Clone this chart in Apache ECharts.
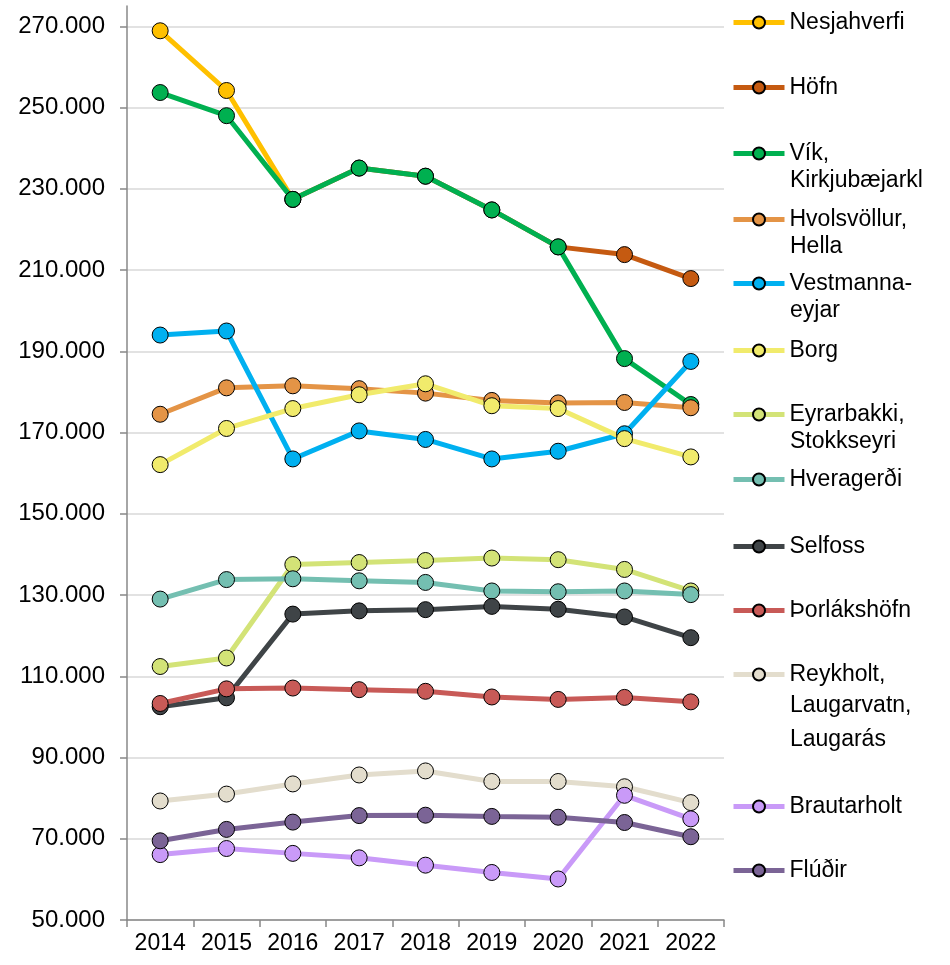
<!DOCTYPE html>
<html>
<head>
<meta charset="utf-8">
<script src="https://cdn.jsdelivr.net/npm/echarts@6/dist/echarts.min.js"></script>
<style>
  html, body { margin: 0; padding: 0; background: #fff; }
  #chart { width: 950px; height: 965px; }
</style>
</head>
<body>
<div id="chart"></div>
<script>
// ár
const years = ['2014', '2015', '2016', '2017', '2018', '2019', '2020', '2021', '2022'];

// gildi lesin af myndinni
const nesjahverfi = [268900, 254200, 227400, null, null, null, null, null, null];
const hofn        = [null, null, 227400, 235100, 233100, 224800, 215700, 213800, 207900];
const vik         = [253700, 248000, 227400, 235100, 233100, 224800, 215700, 188200, 176900];
const hvolsvollur = [174500, 181000, 181500, 180800, 179700, 177900, 177300, 177400, 176100];
const vestmannaeyjar = [194000, 195000, 163500, 170400, 168300, 163500, 165400, 169700, 187500];
const borg        = [162100, 171000, 175900, 179300, 182000, 176600, 175900, 168500, 164000];
const eyrarbakki  = [112400, 114500, 137500, 138000, 138500, 139100, 138700, 136300, 131000];
const hveragerdi  = [129000, 133800, 134000, 133500, 133100, 131000, 130800, 131000, 130100];
const selfoss     = [102500, 104700, 125300, 126100, 126400, 127200, 126500, 124600, 119500];
const thorlakshofn = [103300, 106900, 107100, 106700, 106300, 104900, 104300, 104800, 103700];
const reykholt    = [79300, 81000, 83500, 85700, 86700, 84100, 84100, 82800, 78900];
const brautarholt = [66100, 67600, 66400, 65300, 63500, 61700, 60100, 80700, 74900];
const fludir      = [69500, 72300, 74100, 75700, 75800, 75500, 75300, 74000, 70500];

// nöfn (línur í skýringu)
const names = [
  ['Nesjahverfi'], ['Höfn'], ['Vík,', 'Kirkjubæjarkl'], ['Hvolsvöllur,', 'Hella'],
  ['Vestmanna-', 'eyjar'], ['Borg'], ['Eyrarbakki,', 'Stokkseyri'], ['Hveragerði'],
  ['Selfoss'], ['Þorlákshöfn'], ['Reykholt,', 'Laugarvatn,', 'Laugarás'],
  ['Brautarholt'], ['Flúðir']
];
const values = [nesjahverfi, hofn, vik, hvolsvollur, vestmannaeyjar, borg, eyrarbakki,
  hveragerdi, selfoss, thorlakshofn, reykholt, brautarholt, fludir];
const colors = ['#FFC000', '#C55A11', '#00B050', '#E49446', '#00B0F0', '#F1EB6C', '#D3E377',
  '#74BFB1', '#3F4447', '#C85A57', '#E3DDCD', '#C99AF8', '#7B6496'];

// staðsetning skýringa (miðja fyrstu línu) og framhaldslína
const legendY = [21, 86, 152, 218, 282, 349, 413, 478, 545, 609, 673, 805, 869];
const extraLineY = { 2: [181], 3: [247], 4: [311], 6: [442], 10: [706, 740] };

const FONT = '"Liberation Sans", Arial, sans-serif';
const fmt = v => Math.round(v).toString().replace(/\B(?=(\d{3})+(?!\d))/g, '.');

const chart = echarts.init(document.getElementById('chart'));

const series = names.map((n, i) => ({
  name: n.join(' '),
  type: 'line',
  data: values[i],
  symbol: 'circle',
  symbolSize: 16,
  connectNulls: false,
  lineStyle: { color: colors[i], width: 5 },
  itemStyle: { color: colors[i], borderColor: '#000', borderWidth: 1 },
  emphasis: { disabled: true },
  animation: false
}));

const legends = names.map((n, i) => ({
  data: [n.join(' ')],
  left: 731,
  top: legendY[i] - 10,
  orient: 'vertical',
  padding: 0,
  itemWidth: 51,
  itemHeight: 15,
  selectedMode: false,
  lineStyle: { width: 5 },
  formatter: () => n[0],
  textStyle: { fontSize: 23, color: '#000', fontFamily: FONT }
}));

const graphics = [];
Object.keys(extraLineY).forEach(k => {
  extraLineY[k].forEach((y, j) => {
    graphics.push({
      type: 'text', x: 790, y: y,
      style: { text: names[k][j + 1], font: '23px ' + FONT, fill: '#000', verticalAlign: 'middle' }
    });
  });
});

chart.setOption({
  animation: false,
  grid: { left: 127, right: 226, top: 6, bottom: 45, containLabel: false },
  legend: legends,
  graphic: graphics,
  xAxis: {
    type: 'category',
    data: years,
    boundaryGap: true,
    axisLine: { lineStyle: { color: '#888', width: 1.5 } },
    axisTick: { show: true, length: 7, lineStyle: { color: '#888', width: 1.5 } },
    axisLabel: { interval: 0, fontSize: 23, color: '#000', fontFamily: FONT, margin: 12 }
  },
  yAxis: {
    type: 'value',
    min: 50000,
    max: 275000,
    interval: 20000,
    startValue: 50000,
    axisLine: { show: true, lineStyle: { color: '#888', width: 1.5 } },
    axisTick: { show: true, length: 7, lineStyle: { color: '#888', width: 1.5 } },
    axisLabel: { fontSize: 24, color: '#000', fontFamily: FONT, margin: 22, formatter: fmt, showMaxLabel: false },
    splitLine: { show: true, showMaxLine: false, lineStyle: { color: '#D9D9D9', width: 1.5 } }
  },
  series: series
});
</script>
</body>
</html>
